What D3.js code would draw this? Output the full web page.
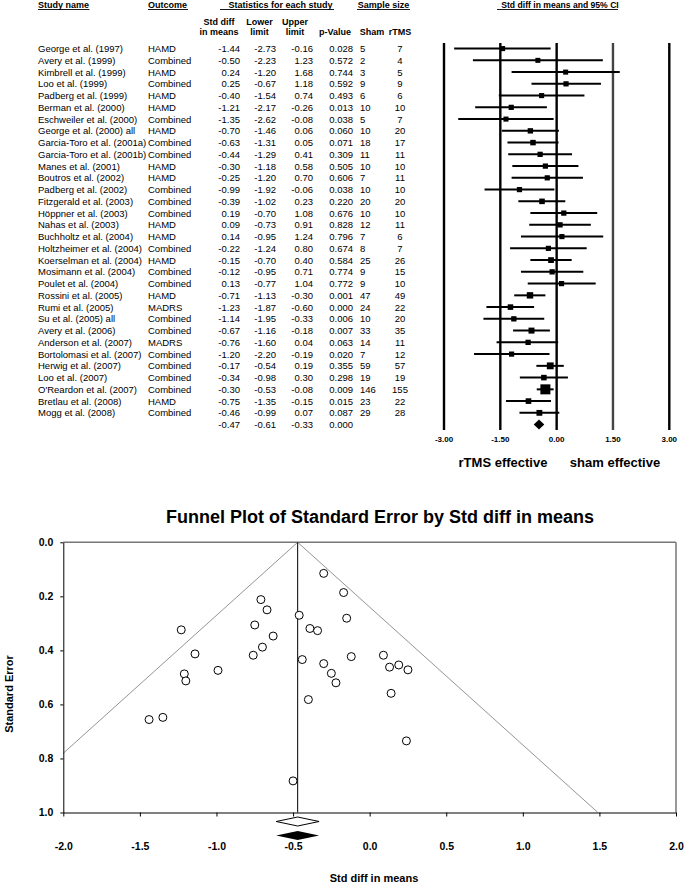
<!DOCTYPE html>
<html>
<head>
<meta charset="utf-8">
<script src="https://cdn.jsdelivr.net/npm/d3@7.9.0/dist/d3.min.js"></script>
<style>
  body { margin: 0; background: #fff; }
  svg { display: block; font-family: "Liberation Sans", Arial, Helvetica, sans-serif; }
</style>
</head>
<body>
<svg id="chart" width="685" height="883"></svg>
<script>
// Study table
const studies = [
  'George et al. (1997)', 'Avery et al. (1999)', 'Kimbrell et al. (1999)', 'Loo et al. (1999)',
  'Padberg et al. (1999)', 'Berman et al. (2000)', 'Eschweiler et al. (2000)', 'George et al. (2000) all',
  'Garcia-Toro et al. (2001a)', 'Garcia-Toro et al. (2001b)', 'Manes et al. (2001)', 'Boutros et al. (2002)',
  'Padberg et al. (2002)', 'Fitzgerald et al. (2003)', 'Höppner et al. (2003)', 'Nahas et al. (2003)',
  'Buchholtz et al. (2004)', 'Holtzheimer et al. (2004)', 'Koerselman et al. (2004)', 'Mosimann et al. (2004)',
  'Poulet et al. (2004)', 'Rossini et al. (2005)', 'Rumi et al. (2005)', 'Su et al. (2005) all',
  'Avery et al. (2006)', 'Anderson et al. (2007)', 'Bortolomasi et al. (2007)', 'Herwig et al. (2007)',
  'Loo et al. (2007)', "O'Reardon et al. (2007)", 'Bretlau et al. (2008)', 'Mogg et al. (2008)'
];
const outcomes = [
  'HAMD', 'Combined', 'HAMD', 'Combined', 'HAMD', 'HAMD', 'Combined', 'HAMD',
  'Combined', 'Combined', 'HAMD', 'HAMD', 'Combined', 'Combined', 'Combined', 'HAMD',
  'HAMD', 'Combined', 'HAMD', 'Combined', 'Combined', 'HAMD', 'MADRS', 'Combined',
  'Combined', 'MADRS', 'Combined', 'Combined', 'Combined', 'Combined', 'HAMD', 'Combined'
];
const stdDiff = [
  -1.44, -0.50, 0.24, 0.25, -0.40, -1.21, -1.35, -0.70,
  -0.63, -0.44, -0.30, -0.25, -0.99, -0.39, 0.19, 0.09,
  0.14, -0.22, -0.15, -0.12, 0.13, -0.71, -1.23, -1.14,
  -0.67, -0.76, -1.20, -0.17, -0.34, -0.30, -0.75, -0.46
];
const lowerLimit = [
  -2.73, -2.23, -1.20, -0.67, -1.54, -2.17, -2.62, -1.46,
  -1.31, -1.29, -1.18, -1.20, -1.92, -1.02, -0.70, -0.73,
  -0.95, -1.24, -0.70, -0.95, -0.77, -1.13, -1.87, -1.95,
  -1.16, -1.60, -2.20, -0.54, -0.98, -0.53, -1.35, -0.99
];
const upperLimit = [
  -0.16, 1.23, 1.68, 1.18, 0.74, -0.26, -0.08, 0.06,
  0.05, 0.41, 0.58, 0.70, -0.06, 0.23, 1.08, 0.91,
  1.24, 0.80, 0.40, 0.71, 1.04, -0.30, -0.60, -0.33,
  -0.18, 0.04, -0.19, 0.19, 0.30, -0.08, -0.15, 0.07
];
const pValues = [
  '0.028', '0.572', '0.744', '0.592', '0.493', '0.013', '0.038', '0.060',
  '0.071', '0.309', '0.505', '0.606', '0.038', '0.220', '0.676', '0.828',
  '0.796', '0.674', '0.584', '0.774', '0.772', '0.001', '0.000', '0.006',
  '0.007', '0.063', '0.020', '0.355', '0.298', '0.009', '0.015', '0.087'
];
const shamN = [5, 2, 3, 9, 6, 10, 5, 10, 18, 11, 10, 7, 10, 20, 10, 12, 7, 8, 25, 9, 9, 47, 24, 10, 33, 14, 7, 59, 19, 146, 23, 29];
const rtmsN = [7, 4, 5, 9, 6, 10, 7, 20, 17, 11, 10, 11, 10, 20, 10, 11, 6, 7, 26, 15, 10, 49, 22, 20, 35, 11, 12, 57, 19, 155, 22, 28];

// Standard errors
const standardErrors = [
  0.656, 0.883, 0.735, 0.472, 0.582, 0.487, 0.648, 0.388,
  0.347, 0.434, 0.449, 0.485, 0.474, 0.319, 0.454, 0.418,
  0.559, 0.520, 0.281, 0.423, 0.462, 0.212, 0.324, 0.413,
  0.250, 0.418, 0.513, 0.186, 0.327, 0.115, 0.306, 0.270
];

// Pooled result
const summaryStats = [-0.47, -0.61, -0.33];
const summaryP = '0.000';

// Axis ticks
const forestTicks = [-3, -1.5, 0, 1.5, 3];
const funnelXTicks = [-2, -1.5, -1, -0.5, 0, 0.5, 1, 1.5, 2];
const funnelYTicks = [0, 0.2, 0.4, 0.6, 0.8, 1.0];

const svg = d3.select('#chart');

// ---------- Forest plot ----------
function renderForest() {
  const rowY = d3.scaleLinear().domain([0, 32]).range([48.6, 424.6]);
  const x = d3.scaleLinear().domain([-3, 3]).range([444, 669.3]);

  // weights only drive the square size
  const weights = standardErrors.map(se => 1 / (se * se));
  const boxSize = d3.scaleLinear().domain(d3.extent(weights)).range([5, 10]);

  const g = svg.append('g');

  // header line 1, underlined
  const headers = [
    { label: 'Study name', x: 38, anchor: 'start', u: [38, 89.5] },
    { label: 'Outcome', x: 148, anchor: 'start', u: [148, 188] },
    { label: 'Statistics for each study', x: 280.5, anchor: 'middle', u: [220, 334] },
    { label: 'Sample size', x: 383.5, anchor: 'middle', u: [357, 410] },
    { label: 'Std diff in means and 95% CI', x: 560, anchor: 'middle', u: [497, 618] }
  ];
  headers.forEach(h => {
    g.append('text')
      .attr('x', h.x).attr('y', 7.5)
      .attr('text-anchor', h.anchor)
      .attr('font-size', h.label.startsWith('Std') ? 8.6 : 9)
      .attr('font-weight', 'bold')
      .text(h.label);
    g.append('line')
      .attr('x1', h.u[0]).attr('x2', h.u[1])
      .attr('y1', 9.5).attr('y2', 9.5)
      .attr('stroke', '#000').attr('stroke-width', 0.9);
  });

  // column sub-headers
  const subHeaders = [
    { lines: ['Std diff', 'in means'], x: 219 },
    { lines: ['Lower', 'limit'], x: 259.5 },
    { lines: ['Upper', 'limit'], x: 295 },
    { lines: ['p-Value'], x: 335 },
    { lines: ['Sham'], x: 372 },
    { lines: ['rTMS'], x: 400 }
  ];
  subHeaders.forEach(s => {
    s.lines.forEach((line, k) => {
      g.append('text')
        .attr('x', s.x)
        .attr('y', s.lines.length === 2 ? 24.5 + k * 10.5 : 35)
        .attr('text-anchor', 'middle')
        .attr('font-size', 9)
        .attr('font-weight', 'bold')
        .text(line);
    });
  });

  // table rows
  const rows = studies.map((name, i) => ({
    name, outcome: outcomes[i], es: stdDiff[i], lo: lowerLimit[i], hi: upperLimit[i],
    p: pValues[i], sham: shamN[i], rtms: rtmsN[i], w: weights[i]
  }));

  const rowG = g.selectAll('g.row').data(rows).join('g')
    .attr('class', 'row')
    .attr('font-size', 9.5);

  rowG.append('text').attr('x', 38).attr('y', (d, i) => rowY(i) + 3.4).text(d => d.name);
  rowG.append('text').attr('x', 148).attr('y', (d, i) => rowY(i) + 3.4).text(d => d.outcome);
  rowG.append('text').attr('x', 240).attr('y', (d, i) => rowY(i) + 3.4).attr('text-anchor', 'end').text(d => d.es.toFixed(2));
  rowG.append('text').attr('x', 276).attr('y', (d, i) => rowY(i) + 3.4).attr('text-anchor', 'end').text(d => d.lo.toFixed(2));
  rowG.append('text').attr('x', 313).attr('y', (d, i) => rowY(i) + 3.4).attr('text-anchor', 'end').text(d => d.hi.toFixed(2));
  rowG.append('text').attr('x', 353).attr('y', (d, i) => rowY(i) + 3.4).attr('text-anchor', 'end').text(d => d.p);
  rowG.append('text').attr('x', 360).attr('y', (d, i) => rowY(i) + 3.4).text(d => d.sham);
  rowG.append('text').attr('x', 400).attr('y', (d, i) => rowY(i) + 3.4).attr('text-anchor', 'middle').text(d => d.rtms);

  // summary row values
  const sumY = rowY(32) + 3.4;
  [240, 276, 313].forEach((cx, k) => {
    g.append('text').attr('x', cx).attr('y', sumY).attr('text-anchor', 'end')
      .attr('font-size', 9.5).text(summaryStats[k].toFixed(2));
  });
  g.append('text').attr('x', 353).attr('y', sumY).attr('text-anchor', 'end')
    .attr('font-size', 9.5).text(summaryP);

  // reference lines
  g.selectAll('line.ref').data(forestTicks).join('line')
    .attr('class', 'ref')
    .attr('x1', d => x(d)).attr('x2', d => x(d))
    .attr('y1', 43).attr('y2', 430)
    .attr('stroke', d => d === 1.5 ? '#444' : '#000')
    .attr('stroke-width', 2.4);

  // CI lines
  g.selectAll('line.ci').data(rows).join('line')
    .attr('class', 'ci')
    .attr('x1', d => x(d.lo)).attr('x2', d => x(d.hi))
    .attr('y1', (d, i) => rowY(i)).attr('y2', (d, i) => rowY(i))
    .attr('stroke', '#000').attr('stroke-width', 2);

  // effect boxes
  g.selectAll('rect.box').data(rows).join('rect')
    .attr('class', 'box')
    .attr('x', d => x(d.es) - boxSize(d.w) / 2)
    .attr('y', (d, i) => rowY(i) - boxSize(d.w) / 2)
    .attr('width', d => boxSize(d.w))
    .attr('height', d => boxSize(d.w))
    .attr('fill', '#000');

  // pooled diamond
  const dy = rowY(32);
  g.append('path')
    .attr('d', `M${x(summaryStats[1])},${dy} L${x(summaryStats[0])},${dy - 5} L${x(summaryStats[2])},${dy} L${x(summaryStats[0])},${dy + 5} Z`)
    .attr('fill', '#000');

  // tick labels
  g.selectAll('text.ftick').data(forestTicks).join('text')
    .attr('class', 'ftick')
    .attr('x', d => x(d)).attr('y', 442)
    .attr('text-anchor', 'middle')
    .attr('font-size', 8)
    .attr('font-weight', 'bold')
    .text(d => d.toFixed(2));

  g.append('text').attr('x', 503).attr('y', 467).attr('text-anchor', 'middle')
    .attr('font-size', 13).attr('font-weight', 'bold').text('rTMS effective');
  g.append('text').attr('x', 615).attr('y', 467).attr('text-anchor', 'middle')
    .attr('font-size', 13).attr('font-weight', 'bold').text('sham effective');
}

// ---------- Funnel plot ----------
function renderFunnel() {
  const left = 63.3, right = 676, top = 542.3, bottom = 812.5;
  const fx = d3.scaleLinear().domain([-2, 2]).range([left, right]);
  const fy = d3.scaleLinear().domain([0, 1]).range([top, bottom]);

  const g = svg.append('g');

  g.append('text')
    .attr('x', 380).attr('y', 523)
    .attr('text-anchor', 'middle')
    .attr('font-size', 18)
    .attr('font-weight', 'bold')
    .text('Funnel Plot of Standard Error by Std diff in means');

  g.append('clipPath').attr('id', 'plotClip')
    .append('rect').attr('x', left).attr('y', top).attr('width', right - left).attr('height', bottom - top);

  // frame: top and right in gray
  g.append('line').attr('x1', left).attr('x2', right).attr('y1', top).attr('y2', top)
    .attr('stroke', '#777').attr('stroke-width', 1.5);
  g.append('line').attr('x1', right).attr('x2', right).attr('y1', top).attr('y2', bottom)
    .attr('stroke', '#777').attr('stroke-width', 1.5);

  // funnel limits
  const center = summaryStats[0];
  const funnel = [
    [[center, 0], [center - 1.96, 1]],
    [[center, 0], [center + 1.96, 1]]
  ];
  g.selectAll('line.funnel').data(funnel).join('line')
    .attr('class', 'funnel')
    .attr('clip-path', 'url(#plotClip)')
    .attr('x1', d => fx(d[0][0])).attr('y1', d => fy(d[0][1]))
    .attr('x2', d => fx(d[1][0])).attr('y2', d => fy(d[1][1]))
    .attr('stroke', '#888').attr('stroke-width', 0.9);

  // pooled effect line
  g.append('line')
    .attr('x1', fx(center)).attr('x2', fx(center))
    .attr('y1', top).attr('y2', bottom)
    .attr('stroke', '#000').attr('stroke-width', 1);

  // studies
  g.selectAll('circle.study').data(stdDiff).join('circle')
    .attr('class', 'study')
    .attr('cx', d => fx(d))
    .attr('cy', (d, i) => fy(standardErrors[i]))
    .attr('r', 4)
    .attr('fill', '#fff')
    .attr('stroke', '#000')
    .attr('stroke-width', 1);

  // axes
  const xAxis = g.append('g')
    .attr('transform', `translate(0,${bottom})`)
    .call(d3.axisBottom(fx).tickValues(funnelXTicks).tickFormat(d => d.toFixed(1)).tickSize(4).tickSizeOuter(0));
  xAxis.select('.domain').attr('stroke', '#000');
  xAxis.selectAll('text')
    .attr('y', 37).attr('dy', 0)
    .attr('font-size', 10.5).attr('font-weight', 'bold')
    .attr('font-family', null);

  const yAxis = g.append('g')
    .attr('transform', `translate(${left},0)`)
    .call(d3.axisLeft(fy).tickValues(funnelYTicks).tickFormat(d => d.toFixed(1)).tickSize(3).tickSizeOuter(0));
  yAxis.selectAll('text')
    .attr('x', -10)
    .attr('font-size', 10.5).attr('font-weight', 'bold')
    .attr('font-family', null);

  // pooled diamonds below the axis (observed and adjusted)
  const diamondPath = yc =>
    `M${fx(summaryStats[1])},${yc} L${fx(center)},${yc - 4.5} L${fx(summaryStats[2])},${yc} L${fx(center)},${yc + 4.5} Z`;
  g.append('path').attr('d', diamondPath(821.5)).attr('fill', '#fff').attr('stroke', '#000').attr('stroke-width', 1);
  g.append('path').attr('d', diamondPath(835.5)).attr('fill', '#000');

  // axis titles
  g.append('text')
    .attr('x', 374).attr('y', 882)
    .attr('text-anchor', 'middle')
    .attr('font-size', 11).attr('font-weight', 'bold')
    .text('Std diff in means');

  g.append('text')
    .attr('transform', 'translate(13,694) rotate(-90)')
    .attr('text-anchor', 'middle')
    .attr('font-size', 11).attr('font-weight', 'bold')
    .text('Standard Error');
}

renderForest();
renderFunnel();
</script>
</body>
</html>
